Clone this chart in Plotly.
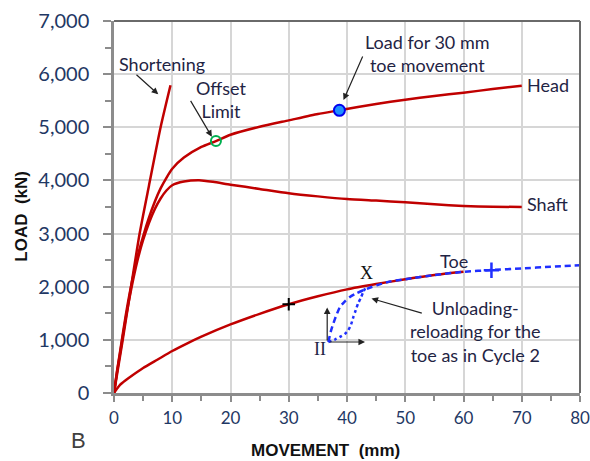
import plotly.graph_objects as go

# ---------------- data ----------------
short_x = [0, 1.5, 3, 4.4, 6, 8, 9.7]
short_y = [0, 1000, 2050, 3000, 3900, 5000, 5790]

head_x = [0, 0.5, 1, 2, 3, 4, 5, 6, 7, 8, 9, 10, 12, 15, 17.5, 20, 25, 30, 35, 38.7, 45, 50, 55, 60, 65, 70]
head_y = [0, 400, 750, 1450, 2050, 2550, 2950, 3300, 3600, 3850, 4050, 4220, 4430, 4630, 4740, 4860,
          5010, 5130, 5250, 5320, 5440, 5520, 5590, 5650, 5720, 5780]

shaft_x = [0, 0.5, 1, 2, 3, 4, 5, 6, 7, 8, 9, 10, 12, 14.6, 17, 20, 25, 30, 35, 40, 45, 50, 55, 60, 65, 70]
shaft_y = [0, 380, 720, 1400, 1980, 2480, 2880, 3200, 3460, 3660, 3810, 3910, 3980, 4005, 3975, 3920,
           3840, 3760, 3700, 3650, 3620, 3590, 3550, 3520, 3505, 3500]

toe_x = [0, 0.5, 1, 2, 3, 5, 7.5, 10, 12.5, 15, 20, 25, 30, 35, 40, 45, 50, 55, 60]
toe_y = [0, 80, 150, 240, 320, 470, 630, 790, 930, 1060, 1290, 1490, 1670, 1820, 1950, 2050, 2140, 2220, 2280]

reload_x = [36.8, 37.2, 37.65, 38.2, 38.8, 39.6, 40.5, 41.6, 42.8, 44, 45.1, 47.4, 50, 55, 60, 65, 70, 75, 80]
reload_y = [960, 1150, 1307, 1470, 1620, 1720, 1808, 1875, 1934, 1985, 2028, 2100, 2140, 2220, 2280, 2315, 2345, 2375, 2405]

unload_x = [36.8, 38.0, 38.8, 39.6, 40.2, 40.7, 41.1, 41.5, 41.9, 42.4, 42.8, 43.4]
unload_y = [960, 1010, 1055, 1110, 1180, 1290, 1431, 1560, 1684, 1800, 1902, 2028]

offset_pt = (17.5, 4740)
load30_pt = (38.7, 5320)
toe30_pt = (30, 1670)
toe65_pt = (64.8, 2311)

x_ticks = [0, 10, 20, 30, 40, 50, 60, 70, 80]
y_ticks = [0, 1000, 2000, 3000, 4000, 5000, 6000, 7000]
y_ticklabels = ["0", "1,000", "2,000", "3,000", "4,000", "5,000", "6,000", "7,000"]

RED = "#c00000"
BLUE = "#1f2fff"
TXT = "#1f2444"
TXTFONT = "Lato"

fig = go.Figure()

for xs, ys in [(short_x, short_y), (head_x, head_y), (shaft_x, shaft_y), (toe_x, toe_y)]:
    fig.add_trace(go.Scatter(x=xs, y=ys, mode="lines", line=dict(color=RED, width=2.5, shape="spline", smoothing=0.6),
                             hoverinfo="skip"))

fig.add_trace(go.Scatter(x=reload_x, y=reload_y, mode="lines",
                         line=dict(color=BLUE, width=2.5, dash="6px,4px", shape="spline", smoothing=0.6)))
fig.add_trace(go.Scatter(x=unload_x, y=unload_y, mode="lines",
                         line=dict(color=BLUE, width=2.5, dash="dot", shape="spline", smoothing=0.6)))

fig.add_trace(go.Scatter(x=[offset_pt[0]], y=[offset_pt[1]], mode="markers",
                         marker=dict(symbol="circle-open", size=10, color="#00b050", line=dict(color="#00b050", width=2))))
fig.add_trace(go.Scatter(x=[load30_pt[0]], y=[load30_pt[1]], mode="markers",
                         marker=dict(symbol="circle", size=11, color="#1e90ff", line=dict(color="#0000ee", width=2))))
fig.add_trace(go.Scatter(x=[toe30_pt[0]], y=[toe30_pt[1]], mode="markers",
                         marker=dict(symbol="cross-thin", size=9, color="black", line=dict(color="black", width=2))))
fig.add_trace(go.Scatter(x=[toe65_pt[0]], y=[toe65_pt[1]], mode="markers",
                         marker=dict(symbol="cross-thin", size=11, color=BLUE, line=dict(color=BLUE, width=2.5))))

# ---------------- text labels ----------------
labels = [
    ("Shortening", 8.2, 6200, "center", TXTFONT, 18, TXT),
    ("Offset<br>Limit", 18.4, 5521, "center", TXTFONT, 18, TXT),
    ("Load for 30 mm<br>toe movement", 53.8, 6390, "center", TXTFONT, 18, TXT),
    ("Head", 70.6, 5795, "left", TXTFONT, 18, TXT),
    ("Shaft", 70.6, 3554, "left", TXTFONT, 18, TXT),
    ("Toe", 58.3, 2487, "center", TXTFONT, 18, TXT),
    ("Unloading-<br>reloading for the<br>toe as in Cycle 2", 62.0, 1162, "center", TXTFONT, 18, TXT),
    ("X", 43.4, 2249, "center", "Liberation Serif", 18, "#111111"),
    ("II", 35.4, 836, "center", "Liberation Serif", 18, "#1f2444"),
]
for txt, x, y, anc, fam, sz, col in labels:
    fig.add_annotation(x=x, y=y, xref="x", yref="y", text=txt, showarrow=False, xanchor=anc, yanchor="middle",
                       font=dict(family=fam, size=sz, color=col), align="center")

# arrows: (tail_x, tail_y, head_x, head_y)
arrows = [
    (3.6, 6015, 7.6, 5620),
    (13.0, 5525, 16.8, 4820),
    (42.8, 6360, 39.4, 5512),
    (53.1, 1495, 44.2, 1778),
    (36.6, 960, 36.6, 1610),
    (36.8, 960, 43.1, 960),
]
for tx, ty, hx, hy in arrows:
    fig.add_annotation(x=hx, y=hy, ax=tx, ay=ty, xref="x", yref="y", axref="x", ayref="y", text="",
                       showarrow=True, arrowhead=2, arrowsize=1.1, arrowwidth=1.2, arrowcolor="#222222",
                       standoff=0, startstandoff=0)

# axis titles and panel letter
fig.add_annotation(x=0.453, y=-0.154, xref="paper", yref="paper", text="<b>MOVEMENT  (mm)</b>", showarrow=False,
                   font=dict(family="Liberation Sans", size=17, color="#111111"), xanchor="center", yanchor="middle")
fig.add_annotation(x=-0.198, y=0.476, xref="paper", yref="paper", text="<b>LOAD  (kN)</b>", showarrow=False,
                   textangle=-90, font=dict(family="Liberation Sans", size=17, color="#111111"),
                   xanchor="center", yanchor="middle")
fig.add_annotation(x=-0.077, y=-0.127, xref="paper", yref="paper", text="B", showarrow=False,
                   font=dict(family="Liberation Sans", size=22, color="#404040"), xanchor="center", yanchor="middle")

# frame top/right
fig.add_shape(type="line", xref="paper", yref="paper", x0=0, x1=1, y0=1, y1=1, line=dict(color="#6a6a6a", width=2))
fig.add_shape(type="line", xref="paper", yref="paper", x0=1, x1=1, y0=0, y1=1, line=dict(color="#6a6a6a", width=2))

fig.update_xaxes(range=[0, 80], tickvals=x_ticks, showgrid=True, gridcolor="#d6d6d6", gridwidth=1.5,
                 showline=True, linecolor="#8c8c8c", linewidth=2.5, ticks="outside", ticklen=6, tickwidth=1.5,
                 tickcolor="#8c8c8c", ticklabelstandoff=2, zeroline=False, automargin=False,
                 ticklabeloverflow="allow",
                 tickfont=dict(family=TXTFONT, size=17, color="#1f3864"),
                 minor=dict(dtick=5, tick0=0, ticks="outside", ticklen=5, tickcolor="#8c8c8c", showgrid=False))
fig.update_yaxes(range=[0, 7000], tickvals=y_ticks, ticktext=y_ticklabels, showgrid=True, gridcolor="#d6d6d6",
                 gridwidth=1.5, showline=True, linecolor="#8c8c8c", linewidth=2.5, ticks="outside", ticklen=8,
                 tickwidth=1.5, tickcolor="#8c8c8c", ticklabelstandoff=10, zeroline=False, automargin=False,
                 ticklabeloverflow="allow",
                 tickfont=dict(family=TXTFONT, size=20, color="#1f3864"),
                 minor=dict(dtick=500, tick0=0, ticks="outside", ticklen=6, tickcolor="#8c8c8c", showgrid=False))

fig.update_layout(width=590, height=461, margin=dict(l=114, r=10, t=21, b=68), showlegend=False,
                  plot_bgcolor="white", paper_bgcolor="white")

# remove the default page margin so the 590x461 figure fills the window exactly
fig.write_html("out.html", config={"displayModeBar": False},
               post_script="document.body.style.margin='0';document.body.style.overflow='hidden';")
